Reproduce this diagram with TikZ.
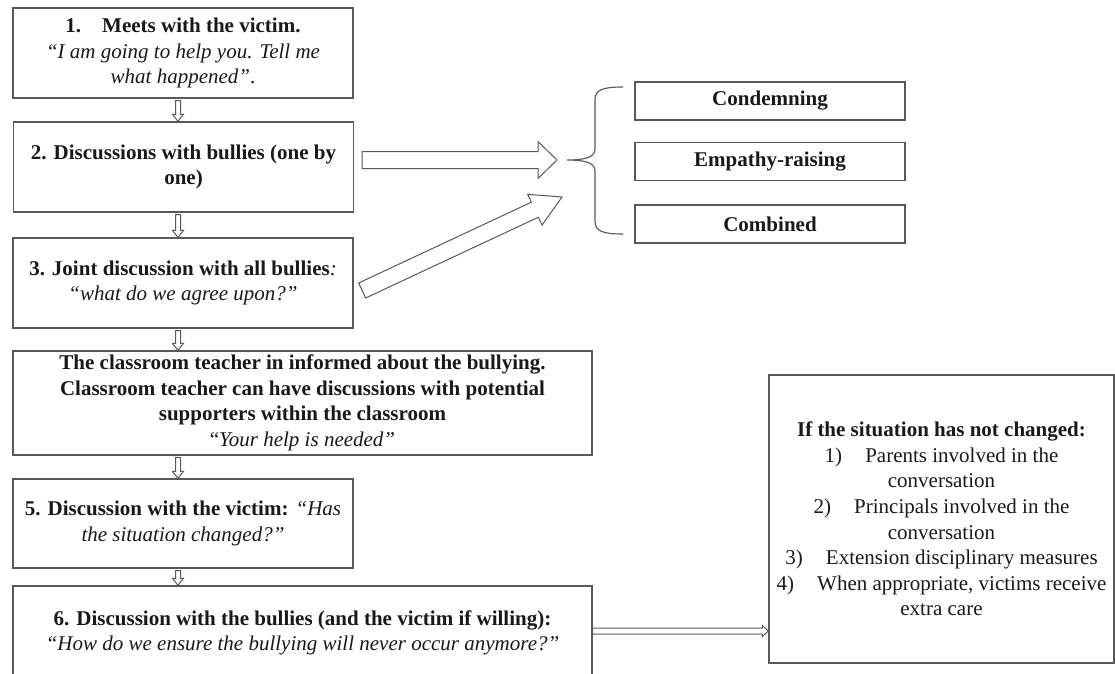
\documentclass[tikz,border=0pt]{standalone}
\usepackage{fontspec}
\setmainfont{Liberation Serif}
\usepackage{tikz}
\usetikzlibrary{calc}
\tikzstyle{stepbox} = [rectangle, draw=black!65, line width=0.9pt, text=black!90, align=center, inner sep=2pt, minimum width=238pt, minimum height=63pt]
\tikzstyle{widebox} = [stepbox, minimum width=405.3pt]
\tikzstyle{typebox} = [stepbox, minimum width=189pt, minimum height=26.6pt]
\tikzstyle{arrowline} = [draw=black!65, line width=0.7pt, line join=miter]
\tikzstyle{bracestyle} = [draw=black!65, line width=0.8pt]

% hollow block arrow: from, to, half shaft, half head, head length
\newcommand{\hollowarrow}[5]{%
	\path ($(#2)!#5!(#1)$) coordinate (hbase);
	\draw [arrowline] ($(#1)!#3!90:(#2)$) -- ($(hbase)!#3!90:(#2)$) -- ($(hbase)!#4!90:(#2)$) -- (#2) -- ($(hbase)!#4!-90:(#2)$) -- ($(hbase)!#3!-90:(#2)$) -- ($(#1)!#3!-90:(#2)$) -- cycle;}

\begin{document}
\begin{tikzpicture}[x=0.7pt, y=-0.7pt, font=\fontsize{14.7pt}{17.9pt}\selectfont]
		
		\useasboundingbox [fill=white] (0,0) rectangle (1115,673);
		\clip (0,0) rectangle (1115,673);
		
		% Steps on the left
		\node (b1) [stepbox] at (183,53) {\textbf{1.\quad Meets with the victim.}\\ \textit{“I am going to help you. Tell me}\\ \textit{what happened”}.};
		\node (b2) [stepbox] at (183.5,167) {\textbf{2. Discussions with bullies (one by}\\ \textbf{one)}};
		\node (b3) [stepbox] at (183,283) {\textbf{3. Joint discussion with all bullies}\textit{:}\\ \textit{“what do we agree upon?”}};
		\node (b4) [widebox, minimum height=72.8pt] at (302.5,403) {\textbf{The classroom teacher in informed about the bullying.}\\ \textbf{Classroom teacher can have discussions with potential}\\ \textbf{supporters within the classroom}\\ “\textit{Your help is needed”}};
		\node (b5) [stepbox, minimum height=62.3pt] at (183,523.5) {\textbf{5. Discussion with the victim:} \textit{“Has}\\ \textit{the situation changed?”}};
		\node (b6) [widebox, minimum height=65.8pt] at (302.5,633) {\textbf{6. Discussion with the bullies (and the victim if willing):}\\ \textit{“How do we ensure the bullying will never occur anymore?”}};
		
		% Kinds of discussion
		\node (t1) [typebox] at (770,101) {\textbf{Condemning}};
		\node (t2) [typebox] at (770,161.5) {\textbf{Empathy-raising}};
		\node (t3) [typebox] at (770,224) {\textbf{Combined}};
		
		% Box on the right
		\node (rb) [stepbox, minimum width=241.5pt, minimum height=201.6pt] at (941.5,519) {\textbf{If the situation has not changed:}\\ 1)\hspace{1.1em}Parents involved in the\\ conversation\\ 2)\hspace{1.1em}Principals involved in the\\ conversation\\ 3)\hspace{1.1em}Extension disciplinary measures\\ 4)\hspace{1.1em}When appropriate, victims receive\\ extra care};
		
		% Brace
		\coordinate (bt) at (567,160);
		\draw [bracestyle] (623,87) .. controls (602,87) and (595,90) .. (595,100) -- (595,149) .. controls (595,157) and (586,160) .. (bt) .. controls (586,160) and (595,163) .. (595,171) -- (595,221) .. controls (595,231) and (602,234) .. (623,234);
		
		% Arrows between steps
		\foreach \u/\v in {b1/b2, b2/b3, b3/b4, b4/b5, b5/b6}
		{
			\path ($(\u.south -| b1.south)+(-5,2)$) coordinate (as) ($(\v.north -| b1.south)+(-5,0)$) coordinate (ae);
			\hollowarrow{as}{ae}{1.75pt}{3.85pt}{4.9pt}
		}
		
		% Big arrows to the brace
		\path ($(b2.east)+(8,-7)$) coordinate (a1s) ($(bt)+(-10,0)$) coordinate (a1e);
		\hollowarrow{a1s}{a1e}{5.95pt}{12.95pt}{13.3pt}
		\path ($(b3.east)+(8.5,7.5)$) coordinate (a2s) ($(bt)+(-5,37)$) coordinate (a2e);
		\hollowarrow{a2s}{a2e}{5.8pt}{11.9pt}{21pt}
		
		% Arrow to the right box
		\path ($(b6.east)+(0,-2)$) coordinate (a3s) ($(b6.east -| rb.west)+(0,-2)$) coordinate (a3e);
		\hollowarrow{a3s}{a3e}{2.1pt}{3.85pt}{4.2pt}
		
	\end{tikzpicture}
\end{document}
